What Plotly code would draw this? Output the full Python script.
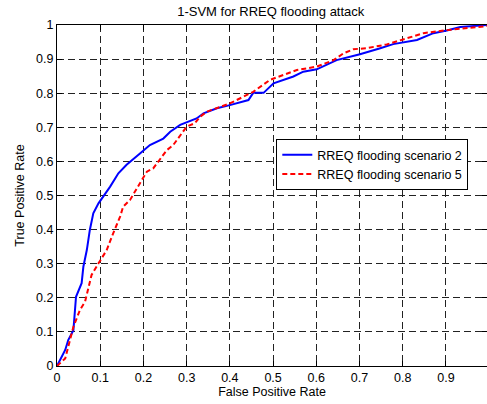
import plotly.graph_objects as go

fpr_s2 = [0, .019, .026, .038, .044, .057, .061, .069, .076, .084, .096, .107, .123, .142, .161,
          .192, .215, .246, .262, .285, .304, .323, .339, .370, .4, .443, .454, .478, .501, .547,
          .570, .601, .647, .701, .748, .778, .833, .871, .902, .933, .995]
tpr_s2 = [0, .047, .076, .105, .203, .243, .291, .34, .399, .448, .477, .496, .526, .565, .59,
          .623, .648, .667, .687, .707, .717, .726, .741, .756, .765, .78, .801, .801, .829, .849,
          .863, .87, .897, .914, .932, .944, .956, .976, .984, .994, 1.0]

fpr_s5 = [0, .019, .038, .053, .065, .080, .096, .115, .130, .146, .153, .169, .192, .208, .223,
          .238, .254, .269, .285, .3, .319, .331, .347, .370, .4, .454, .493, .555, .601, .640,
          .663, .686, .717, .763, .802, .848, .902, .995]
tpr_s5 = [0, .022, .115, .164, .189, .267, .301, .34, .389, .438, .467, .487, .536, .570, .58,
          .604, .633, .648, .677, .702, .712, .731, .746, .756, .770, .804, .839, .868, .878, .897,
          .917, .929, .932, .943, .959, .976, .985, .997]

x_ticks = [0, 0.1, 0.2, 0.3, 0.4, 0.5, 0.6, 0.7, 0.8, 0.9]
x_tick_labels = ["0", "0.1", "0.2", "0.3", "0.4", "0.5", "0.6", "0.7", "0.8", "0.9"]
y_ticks = [0, 0.1, 0.2, 0.3, 0.4, 0.5, 0.6, 0.7, 0.8, 0.9, 1]
y_tick_labels = ["0", "0.1", "0.2", "0.3", "0.4", "0.5", "0.6", "0.7", "0.8", "0.9", "1"]

FONT = "Liberation Sans, Arial, sans-serif"

fig = go.Figure()
fig.add_trace(go.Scatter(x=fpr_s2, y=tpr_s2, mode="lines", name="RREQ flooding scenario 2",
                         line=dict(color="#0000ff", width=2)))
fig.add_trace(go.Scatter(x=fpr_s5, y=tpr_s5, mode="lines", name="RREQ flooding scenario 5",
                         line=dict(color="#ff0000", width=2, dash="5px,3px")))

axis_common = dict(
    showline=True, linecolor="black", linewidth=1, mirror="ticks",
    ticks="inside", ticklen=5, tickcolor="black",
    showgrid=True, gridcolor="#222222", gridwidth=1, griddash="7px,4px",
    zeroline=False, automargin=False,
    tickfont=dict(family=FONT, size=12.5, color="black"),
)

fig.update_layout(
    width=487, height=404,
    margin=dict(l=57, r=0, t=25, b=38),
    paper_bgcolor="white", plot_bgcolor="white",
    title=dict(text="1-SVM for RREQ flooding attack", x=0.556, xanchor="center",
               y=0.982, yanchor="top", font=dict(family=FONT, size=13, color="black")),
    xaxis=dict(range=[0, 0.995], tickvals=x_ticks, ticktext=x_tick_labels,
               title=dict(text="False Positive Rate", standoff=2,
                          font=dict(family=FONT, size=12.5, color="black")),
               **axis_common),
    yaxis=dict(range=[0, 1], tickvals=y_ticks, ticktext=y_tick_labels,
               title=dict(text="True Positive Rate", standoff=8,
                          font=dict(family=FONT, size=12.5, color="black")),
               **axis_common),
    legend=dict(x=0.51, y=0.665, xanchor="left", yanchor="top",
                bgcolor="white", bordercolor="black", borderwidth=1,
                font=dict(family=FONT, size=12.5, color="black"),
                tracegroupgap=0),
    showlegend=True,
)

fig.write_html(
    "out.html",
    config={"displayModeBar": False},
    post_script="document.body.style.margin='0';document.body.style.overflow='hidden';",
)
